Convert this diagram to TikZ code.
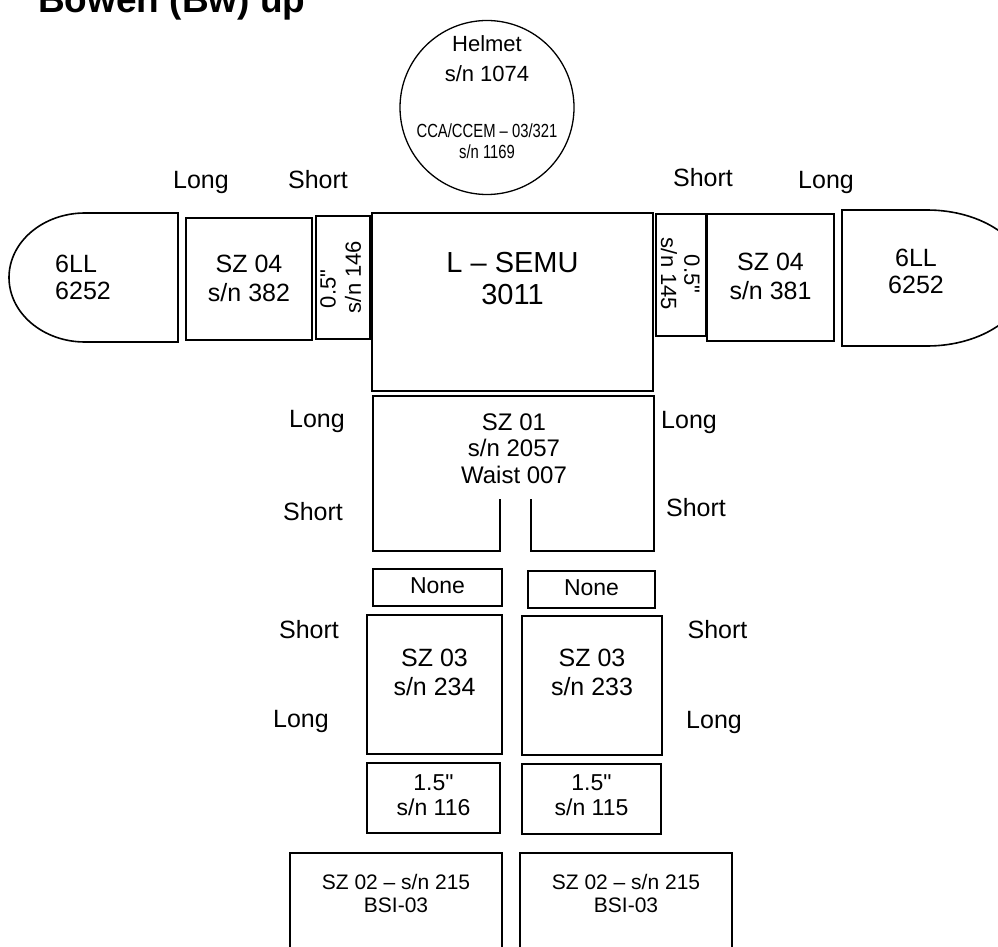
\documentclass[tikz,border=0pt]{standalone}
\usepackage{fontspec}
\setmainfont{Liberation Sans}
\newfontfamily\narrowf{Liberation Sans}[FakeStretch=0.78]
\begin{document}
\begin{tikzpicture}[x=1pt,y=-1pt,
  bx/.style={draw, line width=1.6pt, inner sep=0pt},
  ln/.style={draw, line width=1.6pt, line join=miter},
  txt/.style={inner sep=0pt, anchor=base, font=\fontsize{#1}{#1}\selectfont},
  txt/.default=25]
\useasboundingbox (0,0) rectangle (998,947);
\clip (0,0) rectangle (998,947);
\fill[white] (0,0) rectangle (998,947);

% title
\node[inner sep=0pt, anchor=base west, font=\fontsize{37}{37}\selectfont\bfseries] (title) at (38,13) {Bowen (Bw) up};

% helmet
\node[draw, circle, line width=1.3pt, minimum size=174pt, inner sep=0pt] (helmet) at (487,107.5) {};
\node[txt=22] (h1) at (487,52) {Helmet};
\node[txt=22] (h2) at (487,82) {s/n 1074};
\node[txt=19, font=\narrowf\fontsize{19}{19}\selectfont] (h3) at (487,137) {CCA/CCEM – 03/321};
\node[txt=19, font=\narrowf\fontsize{19}{19}\selectfont] (h4) at (487,158) {s/n 1169};

% top labels
\node[txt] (l1) at (201,188) {Long};
\node[txt] (l2) at (318,188) {Short};
\node[txt] (l3) at (703,186) {Short};
\node[txt] (l4) at (826,188) {Long};

% left glove
\draw[ln] (178,213) -- (85,213) arc[start angle=90, end angle=270, x radius=76pt, y radius=64.5pt] -- (178,342) -- cycle;
\node[txt, anchor=base west] (gl1) at (55,272) {6LL};
\node[txt, anchor=base west] (gl2) at (55,299) {6252};

% right glove
\draw[ln] (842,210) -- (927,210) arc[start angle=90, end angle=-90, x radius=100pt, y radius=68pt] -- (842,346) -- cycle;
\node[txt] (gr1) at (916,266) {6LL};
\node[txt] (gr2) at (916,293) {6252};

% left SZ 04
\node[bx, minimum width=126pt, minimum height=122pt] (szL) at (249,279) {};
\node[txt] (szL1) at (249,272) {SZ 04};
\node[txt] (szL2) at (249,301) {s/n 382};

% left 0.5
\node[bx, minimum width=54pt, minimum height=123pt] (hsL) at (343,277.5) {};
\node[txt=22, anchor=center, rotate=90] (hsL1) at (328,289) {0.5\textquotedbl};
\node[txt=22, anchor=center, rotate=90] (hsL2) at (353,277) {s/n 146};

% L-SEMU
\node[bx, minimum width=281pt, minimum height=178pt] (semu) at (512.5,302) {};
\node[txt=29] (semu1) at (512.5,272) {L – SEMU};
\node[txt=29] (semu2) at (512.5,304) {3011};

% right 0.5
\node[bx, minimum width=50pt, minimum height=122pt] (hsR) at (681,275) {};
\node[txt=22, anchor=center, rotate=-90] (hsR1) at (692,274) {0.5\textquotedbl};
\node[txt=22, anchor=center, rotate=-90] (hsR2) at (669,274) {s/n 145};

% right SZ 04
\node[bx, minimum width=127pt, minimum height=127pt] (szR) at (770.5,277.5) {};
\node[txt] (szR1) at (770.5,270) {SZ 04};
\node[txt] (szR2) at (770.5,299) {s/n 381};

% SZ 01 (waist)
\draw[ln] (500,499) -- (500,551) -- (373,551) -- (373,396) -- (654,396) -- (654,551) -- (531,551) -- (531,499);
\node[txt=24] (w1) at (514,430) {SZ 01};
\node[txt=24] (w2) at (514,456) {s/n 2057};
\node[txt=24] (w3) at (514,483) {Waist 007};
\node[txt] (l5) at (317,427) {Long};
\node[txt] (l6) at (313,520) {Short};
\node[txt] (l7) at (689,428) {Long};
\node[txt] (l8) at (696,516) {Short};

% None boxes
\node[bx, minimum width=129pt, minimum height=37pt] (noneL) at (437.5,587.5) {};
\node[txt=23] (nL) at (437.5,593) {None};
\node[bx, minimum width=127pt, minimum height=37pt] (noneR) at (591.5,589.5) {};
\node[txt=23] (nR) at (591.5,595) {None};

% SZ 03 boxes
\node[bx, minimum width=135pt, minimum height=139pt] (sz3L) at (434.5,684.5) {};
\node[txt] (s3L1) at (434.5,666) {SZ 03};
\node[txt] (s3L2) at (434.5,695) {s/n 234};
\node[bx, minimum width=140pt, minimum height=139pt] (sz3R) at (592,685.5) {};
\node[txt] (s3R1) at (592,666) {SZ 03};
\node[txt] (s3R2) at (592,695) {s/n 233};
\node[txt] (l9) at (309,638) {Short};
\node[txt] (l10) at (301,727) {Long};
\node[txt] (l11) at (717.5,638) {Short};
\node[txt] (l12) at (714,728) {Long};

% 1.5 boxes
\node[bx, minimum width=133pt, minimum height=70pt] (lenL) at (433.5,798) {};
\node[txt=23] (lL1) at (433.5,790) {1.5\textquotedbl};
\node[txt=23] (lL2) at (433.5,815) {s/n 116};
\node[bx, minimum width=139pt, minimum height=70pt] (lenR) at (591.5,799) {};
\node[txt=23] (lR1) at (591.5,790) {1.5\textquotedbl};
\node[txt=23] (lR2) at (591.5,815) {s/n 115};

% SZ 02 boxes
\node[bx, minimum width=212pt, minimum height=104pt] (sz2L) at (396,905) {};
\node[txt=21] (s2L1) at (396,889) {SZ 02 – s/n 215};
\node[txt=21] (s2L2) at (396,912) {BSI-03};
\node[bx, minimum width=212pt, minimum height=104pt] (sz2R) at (626,905) {};
\node[txt=21] (s2R1) at (626,889) {SZ 02 – s/n 215};
\node[txt=21] (s2R2) at (626,912) {BSI-03};
\end{tikzpicture}
\end{document}
